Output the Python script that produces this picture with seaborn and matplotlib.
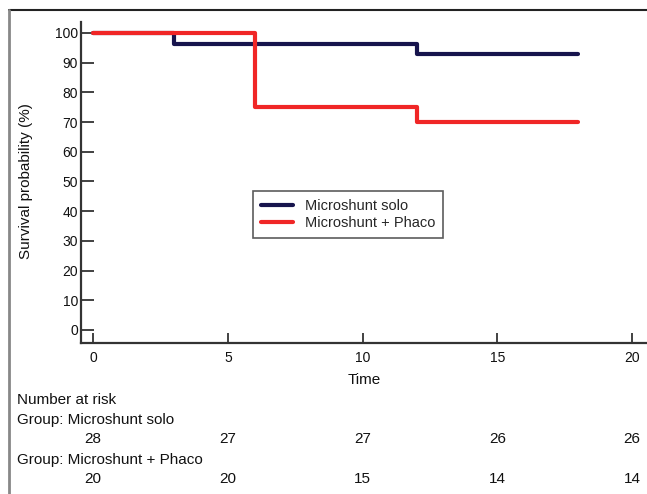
import numpy as np
import pandas as pd
import matplotlib
matplotlib.use("Agg")
import matplotlib.pyplot as plt
import matplotlib.transforms as mtransforms
import seaborn as sns
from matplotlib.lines import Line2D

sns.set_theme(style="white")
plt.rcParams["font.family"] = ["Liberation Sans", "DejaVu Sans"]

# Kaplan-Meier steps
groups = ["Microshunt solo", "Microshunt + Phaco"]
solo_time = [0, 3, 12, 18]
solo_surv = [100, 96.4, 92.9, 92.9]
phaco_time = [0, 6, 12, 18]
phaco_surv = [100, 75, 70, 70]

# number at risk table
risk_times = [0, 5, 10, 15, 20]
risk_solo = [28, 27, 27, 26, 26]
risk_phaco = [20, 20, 15, 14, 14]

colors = {"Microshunt solo": "#17144d", "Microshunt + Phaco": "#f02626"}

df = pd.concat(
    [
        pd.DataFrame({"time": solo_time, "surv": solo_surv, "group": groups[0]}),
        pd.DataFrame({"time": phaco_time, "surv": phaco_surv, "group": groups[1]}),
    ],
    ignore_index=True,
)

fig = plt.figure(figsize=(6.47, 4.94), dpi=100)
ax = fig.add_axes([81 / 647, 1 - 343 / 494, 1 - 81 / 647, 321 / 494])

sns.lineplot(
    data=df,
    x="time",
    y="surv",
    hue="group",
    hue_order=groups,
    palette=colors,
    drawstyle="steps-post",
    estimator=None,
    linewidth=3,
    ax=ax,
)

ax.set_xlim(-0.45, 20.55)
ax.set_ylim(-4.4, 103.7)
ax.set_xticks(risk_times)
ax.set_yticks(np.arange(0, 101, 10))
ax.tick_params(axis="y", direction="in", length=9, width=1.3, color="#333333",
               labelsize=10, pad=2, left=True, labelcolor="#111111")
ax.tick_params(axis="x", direction="in", length=7, width=1.3, color="#333333",
               labelsize=10, pad=6, bottom=True, labelcolor="#111111")
for s in ["top", "right"]:
    ax.spines[s].set_visible(False)
for s in ["left", "bottom"]:
    ax.spines[s].set_color("#333333")
    ax.spines[s].set_linewidth(1.6)

ax.set_xlabel("Time", fontsize=11, color="#111111")
ax.xaxis.set_label_coords(0.5, -(373 - 343) / 321)
ax.set_ylabel("Survival probability (%)", fontsize=11, color="#111111")
ax.yaxis.set_label_coords((33 - 81) / 566, 0.505)

leg = ax.legend(
    loc="upper left",
    bbox_to_anchor=(0.304, 0.473),
    borderaxespad=0,
    fontsize=10.5,
    frameon=True,
    fancybox=False,
    edgecolor="#333333",
    handlelength=2.2,
    labelspacing=0.2,
    borderpad=0.55,
)
leg.get_frame().set_linewidth(1.2)
for h in leg.get_lines():
    h.set_linewidth(3)

# number at risk
fs = 11
x0 = 17 / 647
fig.text(x0, 1 - 400 / 494, "Number at risk", fontsize=fs, va="center", color="#111111")
fig.text(x0, 1 - 420 / 494, "Group: " + groups[0], fontsize=fs, va="center", color="#111111")
fig.text(x0, 1 - 460 / 494, "Group: " + groups[1], fontsize=fs, va="center", color="#111111")
tr = mtransforms.blended_transform_factory(ax.transData, fig.transFigure)
for t, n1, n2 in zip(risk_times, risk_solo, risk_phaco):
    ax.text(t, 1 - 439 / 494, str(n1), transform=tr, fontsize=fs,
            ha="center", va="center", clip_on=False, color="#111111")
    ax.text(t, 1 - 479 / 494, str(n2), transform=tr, fontsize=fs,
            ha="center", va="center", clip_on=False, color="#111111")

# outer frame
fig.add_artist(Line2D([9 / 647, 1], [1 - 10 / 494] * 2, transform=fig.transFigure,
                      color="#222222", linewidth=1.5))
fig.add_artist(Line2D([9 / 647] * 2, [0, 1 - 10 / 494], transform=fig.transFigure,
                      color="#888888", linewidth=2))

fig.savefig("out.png", dpi=100)
